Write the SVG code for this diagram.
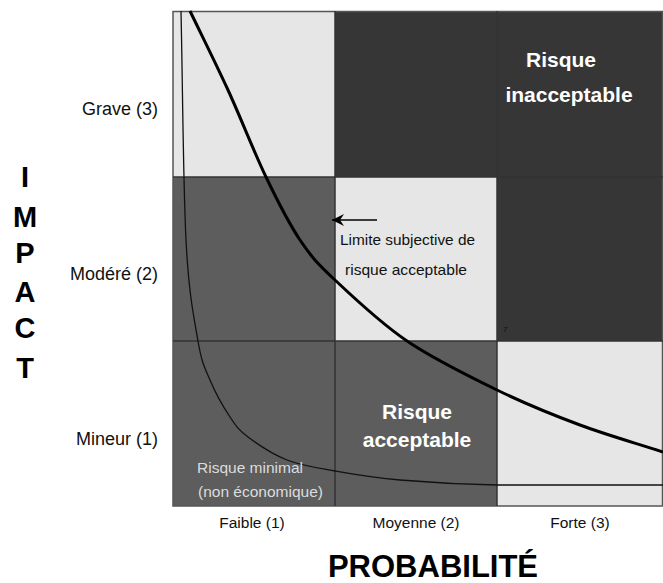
<svg xmlns="http://www.w3.org/2000/svg" width="663" height="583" viewBox="0 0 663 583">
<style>
.light{fill:#e6e6e6}
.mid{fill:#5d5d5d}
.dark{fill:#363636}
.grid{stroke:#333;stroke-width:1.5;fill:none}
.lab{font-family:"Liberation Sans",Arial,sans-serif;fill:#111}
.big{font-family:"Liberation Sans",Arial,sans-serif;font-weight:bold;fill:#fff;font-size:21px;text-anchor:middle}
.ax{font-family:"Liberation Sans",Arial,sans-serif;font-weight:bold;fill:#000}
</style>
<defs>
<marker id="ah" markerWidth="14" markerHeight="14" refX="13" refY="7" orient="auto" markerUnits="userSpaceOnUse">
<path d="M13,7 L1,1 L5,7 L1,13 Z" fill="#000"/>
</marker>
</defs>
<rect width="663" height="583" fill="#fff"/>
<g id="cells">
<rect id="c13" class="light" x="173" y="11" width="162" height="166"/>
<rect id="c23" class="dark" x="335" y="11" width="162" height="166"/>
<rect id="c33" class="dark" x="497" y="11" width="166" height="166"/>
<rect id="c12" class="mid" x="173" y="177" width="162" height="164"/>
<rect id="c22" class="light" x="335" y="177" width="162" height="164"/>
<rect id="c32" class="dark" x="497" y="177" width="166" height="164"/>
<rect id="c11" class="mid" x="173" y="341" width="162" height="165"/>
<rect id="c21" class="mid" x="335" y="341" width="162" height="165"/>
<rect id="c31" class="light" x="497" y="341" width="166" height="165"/>
</g>
<g id="gridlines" class="grid">
<rect x="173" y="11.5" width="489.5" height="494.5" stroke="#555"/>
<line x1="335" y1="11" x2="335" y2="506"/>
<line x1="497" y1="11" x2="497" y2="506"/>
<line x1="173" y1="177" x2="663" y2="177"/>
<line x1="173" y1="341" x2="663" y2="341"/>
</g>
<g id="connectors">
<path id="limite" d="M190,11 C202.7,37.3 215.3,62.3 228,90 C240.7,117.7 254,152 266,177 C278,202 288.5,222.8 300,240 C311.5,257.2 317.2,263.2 335,280 C352.8,296.8 380,322.7 407,341 C434,359.3 468.2,376 497,390 C525.8,404 552.3,414.7 580,425 C607.7,435.3 635.3,443 663,452" fill="none" stroke="#000" stroke-width="3"/>
<path id="minimal" d="M181,11 C182.7,87.3 183.2,185 186,240 C188.8,295 194,317.7 198,341 C202,364.3 204.7,367.3 210,380 C215.3,392.7 223.7,407.5 230,417 C236.3,426.5 238.5,429.8 248,437 C257.5,444.2 272.5,454.3 287,460 C301.5,465.7 316.2,467.7 335,471 C353.8,474.3 373,477.7 400,480 C427,482.3 453.2,484.2 497,485 L663,485" fill="none" stroke="#111" stroke-width="1.3"/>
<line id="arrow" x1="377" y1="220" x2="332" y2="220" stroke="#000" stroke-width="1.5" marker-end="url(#ah)"/>
</g>
<g id="labels-cells">
<text class="big" x="561" y="67">Risque</text>
<text class="big" x="569" y="102">inacceptable</text>
<text class="big" x="417" y="419">Risque</text>
<text class="big" x="417" y="447">acceptable</text>
<text class="lab" x="340" y="245" font-size="14.5" textLength="135" lengthAdjust="spacingAndGlyphs">Limite subjective de</text>
<text class="lab" x="345" y="275" font-size="15" textLength="122" lengthAdjust="spacingAndGlyphs">risque acceptable</text>
<text class="lab" x="197" y="473" font-size="15" style="fill:#dcdcdc" textLength="106" lengthAdjust="spacingAndGlyphs">Risque minimal</text>
<text class="lab" x="198" y="497" font-size="15" style="fill:#dcdcdc" textLength="125" lengthAdjust="spacingAndGlyphs">(non économique)</text>
<text class="lab" x="503" y="332" font-size="8" style="fill:#111">7</text>
</g>
<g id="axis-y">
<text class="lab" x="158" y="115" font-size="18" text-anchor="end">Grave (3)</text>
<text class="lab" x="158" y="280" font-size="18" text-anchor="end">Modéré (2)</text>
<text class="lab" x="158" y="445" font-size="18" text-anchor="end">Mineur (1)</text>
<g class="ax" font-size="29" text-anchor="middle">
<text x="25" y="187">I</text>
<text x="25" y="227">M</text>
<text x="25" y="263">P</text>
<text x="25" y="302">A</text>
<text x="25" y="338">C</text>
<text x="25" y="378">T</text>
</g>
</g>
<g id="axis-x">
<text class="lab" x="252" y="528" font-size="15.5" text-anchor="middle">Faible (1)</text>
<text class="lab" x="416" y="528" font-size="15.5" text-anchor="middle">Moyenne (2)</text>
<text class="lab" x="580" y="528" font-size="15.5" text-anchor="middle">Forte (3)</text>
<text class="ax" x="433" y="577" font-size="31" text-anchor="middle">PROBABILITÉ</text>
</g>
</svg>
